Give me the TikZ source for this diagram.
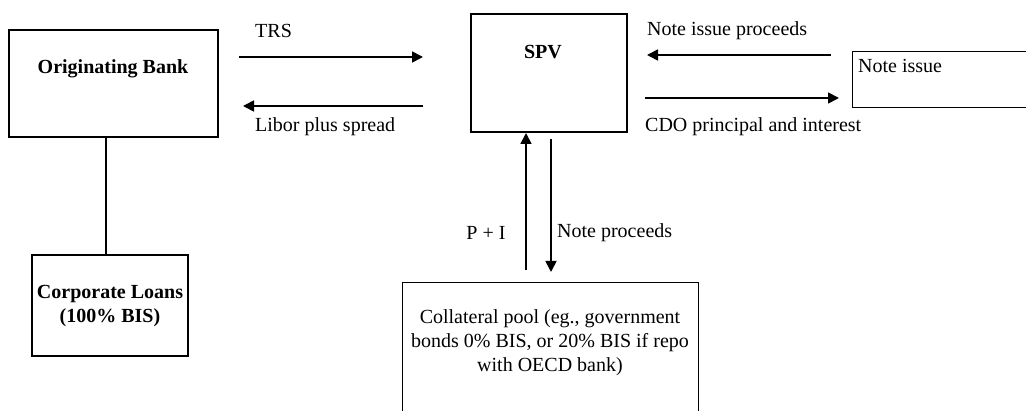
\documentclass[tikz,border=0pt]{standalone}
\usepackage{fontspec}
\setmainfont{Liberation Serif}
\usetikzlibrary{arrows.meta}
\begin{document}
\begin{tikzpicture}[x=1pt,y=-1pt,
  box/.style={draw, line width=1.3pt, inner sep=0pt},
  area/.style={inner sep=0pt},
  edge/.style={line width=1.3pt},
  lbl/.style={font=\fontsize{20}{24}\selectfont, inner sep=0pt},
  blbl/.style={font=\fontsize{20}{24}\selectfont\bfseries, inner sep=0pt, align=center},
  flow/.style={line width=1.7pt, -{Triangle[length=11pt,width=11pt]}}]
\useasboundingbox (0,0) rectangle (1026,411);

% boxes
\node[box, minimum width=209pt, minimum height=107pt] (ob) at (113.5,83.5) {};
\node[blbl] (obt) at (113,69) {Originating Bank};

\node[box, minimum width=156pt, minimum height=101pt] (cl) at (110,305.5) {};
\node[blbl] (clt) at (110,306.5) {Corporate Loans\\(100\% BIS)};

\node[box, minimum width=156pt, minimum height=118pt] (spv) at (549,73) {};
\node[blbl] (spvt) at (543,52) {SPV};

\node[area, minimum width=187pt, minimum height=55pt] (ni) at (946.5,79.5) {};
\draw[edge] (ni.north east) -- (ni.north west) -- (ni.south west) -- (ni.south east);
\node[lbl, anchor=west] (nit) at (858,66) {Note issue};

\node[area, minimum width=295pt, minimum height=147pt] (cp) at (550.5,356.5) {};
\draw[edge] (cp.south west) -- (cp.north west) -- (cp.north east) -- (cp.south east);
\node[lbl, align=center] (cpt) at (550,342.5) {Collateral pool (eg., government\\bonds 0\% BIS, or 20\% BIS if repo\\with OECD bank)};

% link bank - loans
\coordinate (lx) at (106,0);
\draw[edge] (ob.south -| lx) -- (cl.north -| lx);

% arrow end points
\coordinate (trsA) at (239,57);
\coordinate (trsB) at (423,57);
\coordinate (libA) at (423,106);
\coordinate (libB) at (243,106);
\coordinate (nipA) at (831,55);
\coordinate (nipB) at (647,55);
\coordinate (cdoA) at (645,98);
\coordinate (cdoB) at (839,98);
\coordinate (piA) at (526,270);
\coordinate (piB) at (526,133);
\coordinate (npA) at (551,139);
\coordinate (npB) at (551,272);

\draw[flow] (trsA) -- (trsB);
\draw[flow] (libA) -- (libB);
\draw[flow] (nipA) -- (nipB);
\draw[flow] (cdoA) -- (cdoB);
\draw[flow] (piA) -- (piB);
\draw[flow] (npA) -- (npB);

% labels
\node[lbl, anchor=west] (trsl) at (255,31) {TRS};
\node[lbl, anchor=west] (libl) at (255,127) {Libor plus spread};
\node[lbl, anchor=west] (nipl) at (647,31) {Note issue proceeds};
\node[lbl, anchor=west] (cdol) at (645,127) {CDO principal and interest};
\node[lbl] (pil) at (486,233) {P + I};
\node[lbl, anchor=west] (npl) at (557,233) {Note proceeds};
\end{tikzpicture}
\end{document}
